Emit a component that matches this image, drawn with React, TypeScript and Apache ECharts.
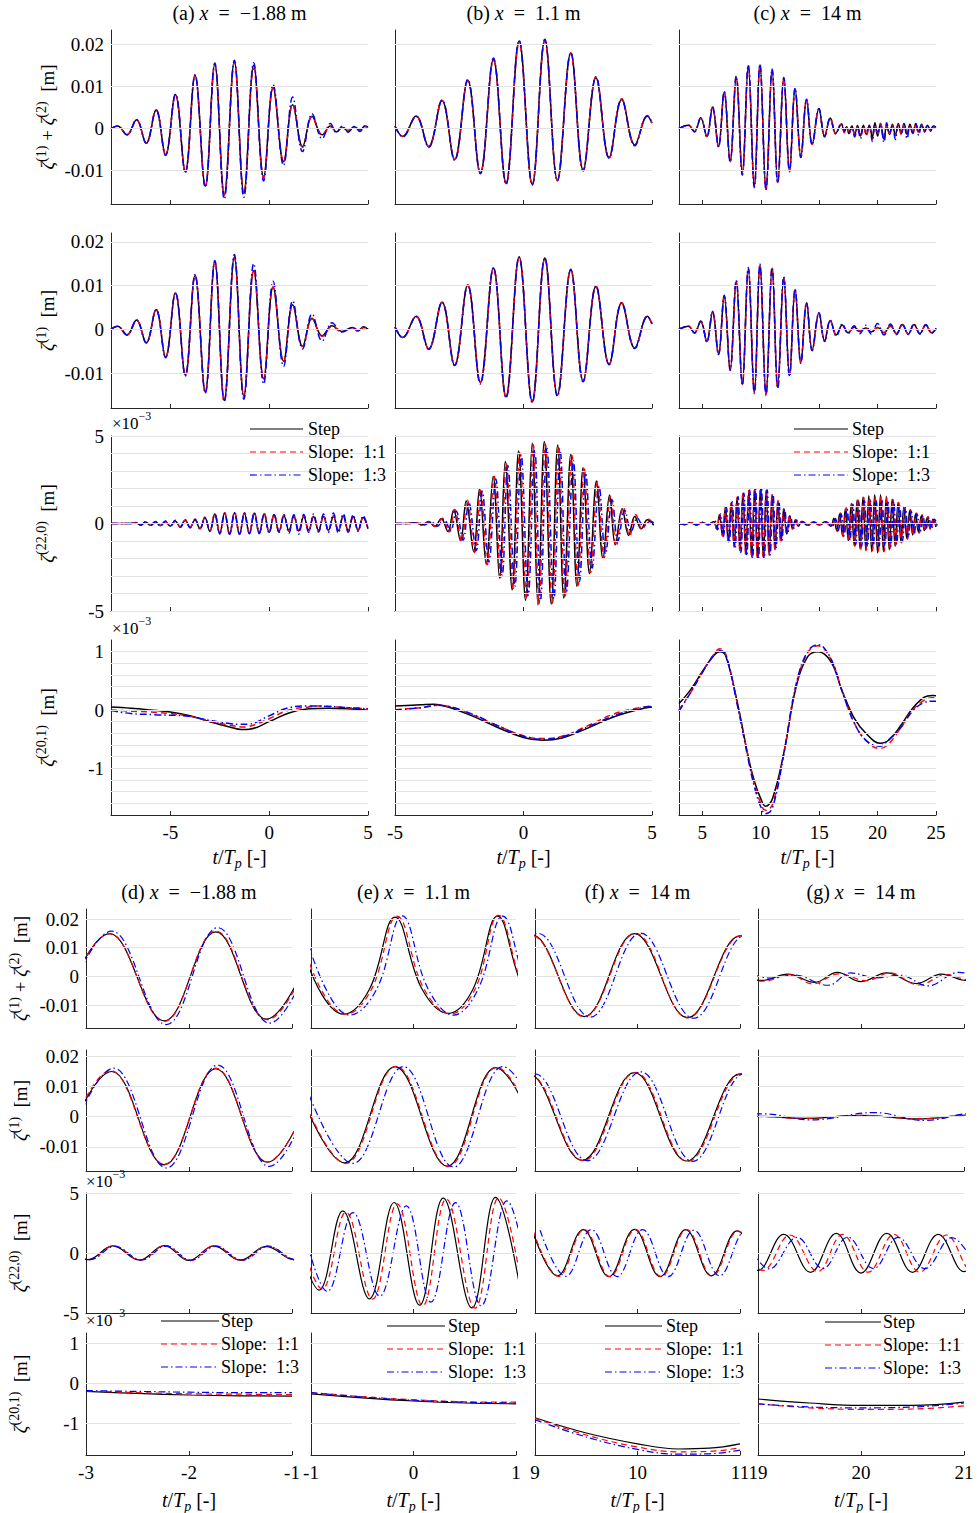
import React, { useEffect, useRef } from 'react';
import * as echarts from 'echarts';

const FONT = '"Liberation Serif", "Times New Roman", serif';
const AXIS = '#262626';
const GRIDC = '#e2e2e2';
const NAMES = ['Step', 'Slope:  1:1', 'Slope:  1:3'];
const COLORS = ['#000000', '#ff0000', '#0000ff'];

// ---------- tick values ----------
const YT_M = [-0.01, 0, 0.01, 0.02];
const YT_220 = [-5, 0, 5];
const YT_201 = [-1, 0, 1];
const GRID_220_TOP = [-5, -4, -3, -2, -1, 0, 1, 2, 3, 4, 5];
const GRID_201_TOP = [-1.6, -1.4, -1.2, -1, -0.8, -0.6, -0.4, -0.2, 0, 0.2, 0.4, 0.6, 0.8, 1];
const GRID_220_BOT = [0, 5];
const XT_TOP = [[-5, 0, 5], [-5, 0, 5], [5, 10, 15, 20, 25]];
const XR_TOP = [[-8, 5], [-5, 5], [3, 25]];
const XT_BOT = [[-3, -2, -1], [-1, 0, 1], [9, 10, 11], [19, 20, 21]];
const XR_BOT = [[-3, -1], [-1, 1], [9, 11], [19, 21]];

// ---------- top row 1 : zeta1 + zeta2 [m] ----------
const T_A1 = [-8, -7.67, -7.19, -6.71, -6.22, -5.72, -5.24, -4.74, -4.24, -3.75, -3.23, -2.75, -2.27, -1.76, -1.28, -0.78, -0.28, 0.2, 0.73, 1.19, 1.69, 2.17, 2.68, 3.1, 3.4, 3.7, 4.0, 4.3, 4.6, 4.85, 5];
const A1_step = [0, 0.0006, -0.0015, 0.0021, -0.0035, 0.0045, -0.0063, 0.0081, -0.0103, 0.0127, -0.0137, 0.0153, -0.0157, 0.0159, -0.0153, 0.0151, -0.0115, 0.0097, -0.0079, 0.0057, -0.0043, 0.0029, -0.0015, 0.0006, -0.0008, 0.0003, -0.0006, 0.0004, -0.0003, 0.0006, 0.0004];
const A1_s11 = [0, 0.0006, -0.0015, 0.0021, -0.0035, 0.0045, -0.0063, 0.0081, -0.0104, 0.0127, -0.0139, 0.0152, -0.0159, 0.0157, -0.0155, 0.0144, -0.0118, 0.0097, -0.008, 0.0058, -0.0045, 0.0028, -0.0017, 0.0004, -0.0006, 0.0002, -0.0004, 0.0003, -0.0004, 0.0004, 0.0002];
const A1_s13 = [0, 0.0006, -0.0015, 0.0021, -0.0035, 0.0045, -0.0064, 0.0082, -0.0105, 0.0128, -0.014, 0.0156, -0.0168, 0.0163, -0.0164, 0.0157, -0.0125, 0.0105, -0.0088, 0.0075, -0.0055, 0.0035, -0.0024, 0.0012, -0.001, 0.0006, -0.0009, 0.0005, -0.0007, 0.0006, 0.0003];

const T_B1 = [-5, -4.7, -4.18, -3.69, -3.17, -2.68, -2.17, -1.68, -1.17, -0.68, -0.17, 0.34, 0.83, 1.32, 1.84, 2.32, 2.82, 3.33, 3.82, 4.33, 4.82, 5];
const B1_step = [0.0006, -0.0019, 0.003, -0.0043, 0.0067, -0.0074, 0.0115, -0.0106, 0.0165, -0.013, 0.0209, -0.0133, 0.0212, -0.0123, 0.018, -0.0099, 0.0121, -0.0069, 0.0069, -0.0039, 0.003, 0.0013];
const B1_s11 = [0.0006, -0.0019, 0.003, -0.0043, 0.0067, -0.0074, 0.0114, -0.0106, 0.0162, -0.0131, 0.0204, -0.0134, 0.0208, -0.0124, 0.018, -0.0099, 0.0124, -0.0071, 0.0071, -0.004, 0.0031, 0.0013];
const B1_s13 = [0.0005, -0.002, 0.0029, -0.0045, 0.0068, -0.0076, 0.0117, -0.0108, 0.0168, -0.0133, 0.021, -0.0135, 0.0213, -0.0125, 0.0181, -0.0101, 0.0123, -0.0071, 0.007, -0.0041, 0.003, 0.0016];

const T_C1 = [3, 3.8, 4.32, 4.86, 5.38, 5.87, 6.38, 6.87, 7.38, 7.9, 8.42, 8.93, 9.45, 9.93, 10.45, 10.97, 11.45, 11.97, 12.46, 12.94, 13.43, 13.92, 14.4, 14.98, 15.46, 15.95, 16.41, 16.9, 17.15, 17.35, 17.55, 17.8, 18.04, 18.28, 18.54, 18.78, 19.04, 19.29, 19.55, 19.77, 20.0, 20.25, 20.54, 20.78, 21.02, 21.27, 21.52, 21.77, 22.02, 22.27, 22.52, 22.77, 23.02, 23.27, 23.52, 23.77, 24.02, 24.27, 24.52, 24.77, 25];
const C1_step = [0, 0.0008, -0.0007, 0.0025, -0.0019, 0.0051, -0.0043, 0.0087, -0.0078, 0.0123, -0.0109, 0.0149, -0.0138, 0.0152, -0.0144, 0.0141, -0.0128, 0.0121, -0.0101, 0.0095, -0.0067, 0.0069, -0.0037, 0.0047, -0.0018, 0.0025, -0.0011, 0.0011, -0.0008, 0.0004, -0.0012, 0.0006, -0.0014, 0.0007, -0.0018, 0.0008, -0.0014, 0.0008, -0.0021, 0.0014, -0.0018, 0.0012, -0.0025, 0.0008, -0.0014, 0.001, -0.0016, 0.0012, -0.0012, 0.0012, -0.0014, 0.001, -0.001, 0.0012, -0.0008, 0.001, -0.0006, 0.0008, -0.0004, 0.0006, 0.0004];
const C1_s11 = [0, 0.0008, -0.0007, 0.0025, -0.0019, 0.0051, -0.0043, 0.0088, -0.0079, 0.0124, -0.011, 0.015, -0.0139, 0.0151, -0.0145, 0.014, -0.0129, 0.012, -0.0101, 0.0094, -0.0068, 0.0068, -0.0038, 0.0046, -0.0019, 0.0024, -0.0012, 0.001, -0.001, 0.0003, -0.0014, 0.0005, -0.0016, 0.0006, -0.002, 0.0006, -0.0017, 0.0006, -0.0026, 0.0009, -0.0015, 0.0012, -0.003, 0.0006, -0.0012, 0.0008, -0.0018, 0.001, -0.0014, 0.001, -0.0016, 0.0008, -0.0012, 0.001, -0.001, 0.0008, -0.0008, 0.0006, -0.0006, 0.0004, 0.0002];
const C1_s13 = [0, 0.0008, -0.0008, 0.0026, -0.002, 0.0052, -0.0044, 0.0088, -0.008, 0.0125, -0.0111, 0.0151, -0.0141, 0.0153, -0.0147, 0.0142, -0.013, 0.0122, -0.0103, 0.0096, -0.0069, 0.007, -0.0039, 0.0048, -0.002, 0.0026, -0.0013, 0.0012, -0.0006, 0.0005, -0.001, 0.0004, -0.002, 0.0002, -0.0024, 0.0006, -0.0006, 0.0005, -0.0031, 0.0012, -0.0008, 0.0004, -0.0033, 0.0014, -0.001, 0.0006, -0.0026, 0.0008, -0.0012, 0.0012, -0.0024, 0.0006, -0.0012, 0.001, -0.0016, 0.0008, -0.0008, 0.0008, -0.0006, 0.0004, 0.0003];

// ---------- top row 2 : zeta1 [m] ----------
const T_A2 = [-8, -7.67, -7.19, -6.71, -6.22, -5.72, -5.24, -4.74, -4.24, -3.75, -3.23, -2.75, -2.27, -1.76, -1.28, -0.78, -0.28, 0.2, 0.73, 1.19, 1.69, 2.17, 2.68, 3.18, 3.68, 4.22, 4.5, 4.78, 5];
const A2_step = [0, 0.0007, -0.0013, 0.0021, -0.0031, 0.0045, -0.0064, 0.0083, -0.0105, 0.0123, -0.0143, 0.0155, -0.0163, 0.0165, -0.0152, 0.0134, -0.0113, 0.0096, -0.0073, 0.0056, -0.0039, 0.0025, -0.0015, 0.0008, -0.0005, 0.0004, -0.0004, 0.0006, 0];
const A2_s11 = [0, 0.0007, -0.0013, 0.0021, -0.0031, 0.0045, -0.0064, 0.0083, -0.0106, 0.0123, -0.0144, 0.0154, -0.0165, 0.0163, -0.0154, 0.0136, -0.0115, 0.0097, -0.0075, 0.0056, -0.004, 0.0024, -0.0016, 0.0006, -0.0006, 0.0003, -0.0005, 0.0004, 0.0001];
const A2_s13 = [0, 0.0007, -0.0013, 0.0021, -0.0031, 0.0045, -0.0065, 0.0084, -0.0107, 0.0125, -0.0146, 0.0157, -0.0165, 0.0171, -0.016, 0.015, -0.0125, 0.011, -0.0085, 0.0065, -0.0045, 0.0035, -0.0027, 0.0015, -0.0006, 0.0004, -0.0002, 0.0004, 0.0001];

const T_B2 = [-5, -4.7, -4.18, -3.69, -3.17, -2.68, -2.17, -1.68, -1.17, -0.68, -0.17, 0.34, 0.83, 1.32, 1.84, 2.32, 2.82, 3.33, 3.82, 4.33, 4.82, 5];
const B2_step = [0.0005, -0.0019, 0.003, -0.0045, 0.0062, -0.0082, 0.0102, -0.0121, 0.014, -0.0154, 0.0165, -0.0165, 0.0163, -0.015, 0.0137, -0.0118, 0.0098, -0.008, 0.006, -0.0043, 0.003, 0.0012];
const B2_s11 = [0.0005, -0.0019, 0.003, -0.0045, 0.0062, -0.0082, 0.0101, -0.0122, 0.0139, -0.0155, 0.0164, -0.0166, 0.0161, -0.0151, 0.0135, -0.0119, 0.0099, -0.008, 0.0061, -0.0043, 0.003, 0.0011];
const B2_s13 = [0.0005, -0.0019, 0.0029, -0.0046, 0.0062, -0.0083, 0.0101, -0.0125, 0.0141, -0.0157, 0.0165, -0.0168, 0.0163, -0.0153, 0.0136, -0.012, 0.0099, -0.0081, 0.006, -0.0044, 0.0029, 0.0014];

const T_C2 = [3, 3.8, 4.32, 4.86, 5.38, 5.87, 6.38, 6.87, 7.38, 7.9, 8.42, 8.93, 9.45, 9.93, 10.45, 10.97, 11.45, 11.97, 12.46, 12.94, 13.43, 13.92, 14.4, 14.98, 15.46, 15.95, 16.47, 16.98, 17.47, 18.0, 18.47, 19.0, 19.45, 20.0, 20.55, 21.1, 21.62, 22.11, 22.63, 23.11, 23.63, 24.12, 24.63, 25];
const C2_step = [0, 0.0007, -0.0008, 0.0018, -0.0028, 0.004, -0.0056, 0.0076, -0.0092, 0.0109, -0.0125, 0.0138, -0.0144, 0.0147, -0.0148, 0.014, -0.0133, 0.0119, -0.0106, 0.0091, -0.0076, 0.006, -0.0047, 0.0037, -0.0026, 0.002, -0.0013, 0.001, -0.0008, 0.0005, -0.0005, 0.0003, -0.0006, 0.0004, -0.0008, 0.0008, -0.001, 0.0011, -0.0011, 0.0011, -0.001, 0.001, -0.0008, 0.0002];
const C2_s11 = [0, 0.0007, -0.0008, 0.0018, -0.0028, 0.004, -0.0057, 0.0077, -0.0093, 0.011, -0.0126, 0.0139, -0.0145, 0.0146, -0.0149, 0.0139, -0.0134, 0.0118, -0.0106, 0.009, -0.0077, 0.0059, -0.0048, 0.0036, -0.0027, 0.0019, -0.0014, 0.0009, -0.0008, 0.0004, -0.0004, 0.0002, -0.0006, 0.0004, -0.0008, 0.0007, -0.001, 0.001, -0.0011, 0.001, -0.001, 0.0009, -0.0008, 0.0002];
const C2_s13 = [0, 0.0007, -0.0009, 0.0019, -0.0029, 0.0041, -0.0058, 0.0078, -0.0094, 0.0112, -0.0128, 0.0141, -0.0147, 0.0149, -0.0151, 0.0141, -0.0135, 0.012, -0.0108, 0.0092, -0.0078, 0.0061, -0.0049, 0.0038, -0.0028, 0.0021, -0.0016, 0.0012, -0.001, 0.0008, -0.001, 0.0009, -0.0011, 0.0013, -0.0013, 0.0012, -0.0012, 0.0012, -0.0012, 0.0012, -0.0011, 0.0011, -0.0009, 0.0002];

// ---------- top row 3 : zeta(22,0) [1e-3 m] ----------
const T_A3 = [-8, -7, -6.75, -6.5, -6.25, -6, -5.75, -5.5, -5.25, -5, -4.75, -4.5, -4.25, -4, -3.75, -3.5, -3.25, -3, -2.75, -2.5, -2.25, -2, -1.75, -1.5, -1.25, -1, -0.75, -0.5, -0.25, 0, 0.25, 0.5, 0.75, 1, 1.25, 1.5, 1.75, 2, 2.25, 2.5, 2.75, 3, 3.25, 3.5, 3.75, 4, 4.25, 4.5, 4.75, 5];
const A3_step = [0, 0, 0.05, -0.08, 0.08, -0.1, 0.1, -0.12, 0.12, -0.15, 0.15, -0.2, 0.18, -0.2, 0.22, -0.3, 0.35, -0.45, 0.55, -0.58, 0.6, -0.62, 0.62, -0.62, 0.58, -0.56, 0.6, -0.58, 0.55, -0.5, 0.5, -0.45, 0.45, -0.4, 0.4, -0.42, 0.4, -0.38, 0.4, -0.4, 0.4, -0.38, 0.4, -0.4, 0.42, -0.4, 0.4, -0.38, 0.35, -0.3];
const A3_s11 = [0, 0, 0.05, -0.08, 0.08, -0.1, 0.1, -0.12, 0.12, -0.15, 0.16, -0.2, 0.2, -0.22, 0.24, -0.3, 0.36, -0.45, 0.57, -0.6, 0.62, -0.63, 0.65, -0.62, 0.62, -0.58, 0.62, -0.55, 0.58, -0.5, 0.52, -0.48, 0.5, -0.45, 0.45, -0.45, 0.45, -0.45, 0.42, -0.45, 0.45, -0.42, 0.45, -0.42, 0.45, -0.42, 0.42, -0.4, 0.38, -0.3];
const A3_s13 = [0, 0, 0.06, -0.09, 0.1, -0.12, 0.12, -0.14, 0.14, -0.16, 0.18, -0.22, 0.22, -0.25, 0.25, -0.32, 0.34, -0.42, 0.52, -0.55, 0.58, -0.6, 0.6, -0.6, 0.58, -0.58, 0.6, -0.55, 0.55, -0.52, 0.5, -0.5, 0.5, -0.55, 0.5, -0.6, 0.52, -0.5, 0.55, -0.48, 0.55, -0.5, 0.6, -0.55, 0.55, -0.5, 0.5, -0.45, 0.45, -0.3];

const T_B3 = [-5, -4.5, -4.2, -3.95, -3.69, -3.46, -3.2, -2.94, -2.72, -2.45, -2.23, -1.94, -1.71, -1.45, -1.18, -0.93, -0.71, -0.44, -0.19, 0.08, 0.34, 0.56, 0.81, 1.08, 1.33, 1.57, 1.84, 2.08, 2.32, 2.57, 2.84, 3.09, 3.35, 3.57, 3.84, 4.09, 4.33, 4.58, 4.82, 5.07];
const B3_step = [0, 0, 0.05, -0.08, 0.11, -0.17, 0.27, -0.46, 0.76, -0.99, 1.29, -1.6, 1.98, -2.32, 2.69, -3.12, 3.54, -3.78, 4.14, -4.39, 4.58, -4.64, 4.68, -4.6, 4.49, -4.26, 3.95, -3.59, 3.19, -2.87, 2.43, -1.98, 1.63, -1.22, 0.84, -0.68, 0.4, -0.3, 0.21, -0.1];
const T_B3r = [-5, -4.46, -4.16, -3.91, -3.65, -3.42, -3.16, -2.9, -2.68, -2.41, -2.19, -1.9, -1.67, -1.41, -1.14, -0.89, -0.67, -0.4, -0.15, 0.12, 0.38, 0.6, 0.85, 1.12, 1.37, 1.61, 1.88, 2.12, 2.36, 2.61, 2.88, 3.13, 3.39, 3.61, 3.88, 4.13, 4.37, 4.62, 4.86, 5.11];
const B3_s11 = [0, 0, 0.05, -0.08, 0.11, -0.17, 0.3, -0.48, 0.8, -1.05, 1.35, -1.65, 2.0, -2.35, 2.7, -3.1, 3.45, -3.7, 4.05, -4.3, 4.5, -4.6, 4.55, -4.55, 4.4, -4.2, 3.9, -3.55, 3.15, -2.8, 2.4, -2.0, 1.6, -1.3, 0.95, -0.72, 0.5, -0.35, 0.25, -0.1];
const T_B3b = [-5, -4.4, -4.1, -3.85, -3.59, -3.36, -3.1, -2.84, -2.62, -2.35, -2.13, -1.84, -1.61, -1.35, -1.08, -0.83, -0.61, -0.34, -0.09, 0.18, 0.44, 0.66, 0.91, 1.18, 1.43, 1.67, 1.94, 2.18, 2.42, 2.67, 2.94, 3.19, 3.45, 3.67, 3.94, 4.19, 4.43, 4.68, 4.92, 5.17];
const B3_s13 = [0, 0, 0.05, -0.08, 0.1, -0.15, 0.25, -0.42, 0.7, -0.95, 1.2, -1.55, 1.85, -2.2, 2.55, -2.95, 3.3, -3.6, 3.9, -4.1, 4.2, -4.4, 4.3, -4.3, 4.1, -3.9, 3.6, -3.3, 2.9, -2.55, 2.1, -1.75, 1.35, -1.0, 0.75, -0.45, 0.3, -0.15, 0.12, -0.05];

const T_C3 = [3, 3.5, 4, 4.5, 5, 5.5, 5.97, 6.22, 6.47, 6.72, 6.97, 7.22, 7.47, 7.72, 7.97, 8.22, 8.47, 8.72, 8.97, 9.22, 9.47, 9.72, 9.97, 10.22, 10.47, 10.72, 10.97, 11.22, 11.47, 11.72, 11.97, 12.22, 12.47, 12.72, 12.97, 13.22, 13.5, 14, 14.5, 15, 15.5, 16.0, 16.25, 16.5, 16.75, 17.0, 17.25, 17.5, 17.75, 18.0, 18.25, 18.5, 18.75, 19.0, 19.25, 19.5, 19.75, 20.0, 20.25, 20.5, 20.75, 21.0, 21.25, 21.5, 21.75, 22.0, 22.25, 22.5, 22.75, 23.0, 23.25, 23.5, 23.75, 24.0, 24.25, 24.5, 24.75, 25];
const C3_step = [0, -0.05, 0.05, -0.08, 0.06, -0.06, 0.1, -0.3, 0.5, -0.7, 0.9, -1.05, 1.2, -1.3, 1.45, -1.55, 1.7, -1.75, 1.85, -1.9, 1.95, -2.0, 2.0, -1.95, 1.9, -1.8, 1.65, -1.5, 1.3, -1.05, 0.85, -0.6, 0.45, -0.3, 0.2, -0.15, 0.12, -0.1, 0.08, -0.08, 0.1, -0.15, 0.3, -0.4, 0.55, -0.7, 0.85, -1.0, 1.15, -1.25, 1.35, -1.45, 1.5, -1.55, 1.58, -1.61, 1.64, -1.67, 1.64, -1.61, 1.56, -1.5, 1.4, -1.3, 1.2, -1.05, 0.95, -0.85, 0.75, -0.65, 0.55, -0.5, 0.45, -0.4, 0.35, -0.3, 0.25, -0.2];
const T_C3r = [3, 3.5, 4, 4.5, 5, 5.5, 5.97, 6.22, 6.47, 6.72, 6.97, 7.22, 7.47, 7.72, 7.97, 8.22, 8.47, 8.72, 8.97, 9.22, 9.47, 9.72, 9.97, 10.22, 10.47, 10.72, 10.97, 11.22, 11.47, 11.72, 11.97, 12.22, 12.47, 12.72, 12.97, 13.22, 13.5, 14, 14.5, 15, 15.5, 16.06, 16.31, 16.56, 16.81, 17.06, 17.31, 17.56, 17.81, 18.06, 18.31, 18.56, 18.81, 19.06, 19.31, 19.56, 19.81, 20.06, 20.31, 20.56, 20.81, 21.06, 21.31, 21.56, 21.81, 22.06, 22.31, 22.56, 22.81, 23.06, 23.31, 23.56, 23.81, 24.06, 24.31, 24.56, 24.81, 25.06];
const C3_s11 = [0, -0.05, 0.05, -0.07, 0.06, -0.06, 0.12, -0.32, 0.52, -0.72, 0.92, -1.08, 1.22, -1.35, 1.5, -1.6, 1.72, -1.8, 1.88, -1.95, 1.98, -2.02, 2.0, -1.98, 1.9, -1.8, 1.65, -1.5, 1.3, -1.1, 0.85, -0.62, 0.45, -0.32, 0.2, -0.15, 0.12, -0.1, 0.08, -0.08, 0.1, -0.18, 0.32, -0.45, 0.6, -0.75, 0.9, -1.05, 1.2, -1.3, 1.4, -1.5, 1.5, -1.5, 1.5, -1.55, 1.55, -1.6, 1.55, -1.6, 1.5, -1.5, 1.4, -1.3, 1.2, -1.1, 1.0, -0.9, 0.8, -0.7, 0.6, -0.55, 0.5, -0.45, 0.4, -0.35, 0.3, -0.25];
const T_C3b = [3, 3.5, 4, 4.5, 5, 5.5, 6.05, 6.3, 6.55, 6.8, 7.05, 7.3, 7.55, 7.8, 8.05, 8.3, 8.55, 8.8, 9.05, 9.3, 9.55, 9.8, 10.05, 10.3, 10.55, 10.8, 11.05, 11.3, 11.55, 11.8, 12.05, 12.3, 12.55, 12.8, 13.05, 13.3, 13.58, 14.08, 14.58, 15.08, 15.58, 16.13, 16.38, 16.63, 16.88, 17.13, 17.38, 17.63, 17.88, 18.13, 18.38, 18.63, 18.88, 19.13, 19.38, 19.63, 19.88, 20.13, 20.38, 20.63, 20.88, 21.13, 21.38, 21.63, 21.88, 22.13, 22.38, 22.63, 22.88, 23.13, 23.38, 23.63, 23.88, 24.13, 24.38, 24.63, 24.88, 25.13];
const C3_s13 = [0, -0.05, 0.06, -0.08, 0.06, -0.08, 0.15, -0.35, 0.55, -0.75, 0.95, -1.1, 1.25, -1.4, 1.55, -1.65, 1.75, -1.85, 1.92, -1.98, 2.02, -2.07, 2.05, -2.0, 1.92, -1.8, 1.65, -1.45, 1.25, -1.0, 0.8, -0.6, 0.42, -0.3, 0.2, -0.15, 0.12, -0.1, 0.08, -0.08, 0.1, -0.15, 0.28, -0.4, 0.55, -0.7, 0.85, -0.95, 1.1, -1.2, 1.25, -1.3, 1.3, -1.33, 1.3, -1.3, 1.32, -1.3, 1.3, -1.3, 1.28, -1.3, 1.25, -1.2, 1.1, -1.0, 0.9, -0.8, 0.7, -0.6, 0.55, -0.5, 0.45, -0.4, 0.35, -0.3, 0.25, -0.2];

// ---------- top row 4 : zeta(20,1) [1e-3 m] ----------
const A4_step = [[-8, 0.05], [-7, 0.03], [-6, 0.0], [-5, -0.035], [-4, -0.1], [-3, -0.2], [-2, -0.29], [-1.4, -0.335], [-1, -0.33], [0, -0.2], [1, -0.05], [2, 0.02], [3, 0.03], [4, 0.02], [5, -0.005]];
const A4_s11 = [[-8, 0.0], [-7, -0.02], [-6, -0.035], [-5, -0.06], [-4, -0.11], [-3, -0.19], [-2, -0.26], [-1.3, -0.29], [-1, -0.28], [0, -0.15], [1, 0.0], [2, 0.05], [2.5, 0.07], [3.5, 0.05], [5, 0.02]];
const A4_s13 = [[-8, -0.01], [-7, -0.06], [-5.8, -0.08], [-4, -0.11], [-3, -0.18], [-2, -0.23], [-1.5, -0.245], [-1, -0.24], [0, -0.1], [1, 0.04], [2, 0.07], [3, 0.06], [4, 0.04], [5, 0.02]];
const B4_step = [[-5, 0.07], [-4, 0.09], [-3.5, 0.1], [-3, 0.06], [-2, -0.1], [-1, -0.3], [0, -0.47], [0.75, -0.52], [1.5, -0.48], [2.5, -0.31], [3.5, -0.12], [4.5, 0.01], [5, 0.05]];
const B4_s11 = [[-5, 0.005], [-4, 0.04], [-3.3, 0.08], [-3, 0.07], [-2, -0.08], [-1, -0.27], [0, -0.44], [0.7, -0.49], [1.5, -0.45], [2.5, -0.27], [3.5, -0.07], [4.5, 0.04], [5, 0.07]];
const B4_s13 = [[-5, 0.0], [-4, 0.04], [-3.3, 0.08], [-3, 0.07], [-2, -0.07], [-1, -0.27], [0, -0.45], [0.7, -0.5], [1.5, -0.46], [2.5, -0.29], [3.5, -0.1], [4.5, 0.03], [5, 0.06]];
const T_C4 = [3, 4, 5, 6, 6.5, 7, 8, 9, 9.5, 10, 10.4, 11, 12, 13, 14, 14.9, 16, 17, 18, 19, 20.2, 21, 22, 23, 24, 24.7, 25];
const C4_step = [0.11, 0.35, 0.66, 0.94, 1.0, 0.93, 0.12, -0.87, -1.25, -1.52, -1.65, -1.52, -0.71, 0.37, 0.91, 1.0, 0.83, 0.31, -0.14, -0.4, -0.57, -0.51, -0.26, 0.03, 0.22, 0.25, 0.245];
const C4_s11 = [0.0, 0.3, 0.65, 0.96, 1.05, 0.96, 0.1, -0.88, -1.3, -1.6, -1.72, -1.62, -0.72, 0.4, 0.98, 1.1, 0.87, 0.3, -0.22, -0.52, -0.66, -0.57, -0.3, 0.0, 0.17, 0.21, 0.21];
const C4_s13 = [-0.02, 0.3, 0.64, 0.95, 1.02, 0.95, 0.08, -0.92, -1.35, -1.66, -1.78, -1.68, -0.72, 0.42, 1.0, 1.12, 0.88, 0.3, -0.22, -0.52, -0.62, -0.5, -0.3, -0.02, 0.13, 0.15, 0.15];

// ---------- bottom row 1 : zeta1 + zeta2 [m] ----------
const D1_step = [[-3.28, -0.015], [-2.77, 0.0149], [-2.24, -0.0155], [-1.74, 0.0155], [-1.25, -0.0149], [-0.74, 0.015]];
const D1_s11 = [[-3.28, -0.015], [-2.77, 0.0149], [-2.24, -0.0157], [-1.74, 0.0158], [-1.24, -0.0151], [-0.73, 0.015]];
const D1_s13 = [[-3.26, -0.0155], [-2.75, 0.0158], [-2.22, -0.0168], [-1.72, 0.017], [-1.22, -0.0163], [-0.71, 0.016]];
const E1_step = [[-1.18, 0.0207], [-0.93, -0.004], [-0.68, -0.0132], [-0.43, -0.0045], [-0.18, 0.0207], [0.08, -0.0042], [0.34, -0.0129], [0.58, -0.0045], [0.82, 0.021], [1.07, -0.004], [1.32, -0.013]];
const E1_s11 = [[-1.16, 0.021], [-0.91, -0.004], [-0.66, -0.0132], [-0.41, -0.0045], [-0.16, 0.021], [0.1, -0.0042], [0.36, -0.0131], [0.6, -0.0045], [0.83, 0.0213], [1.08, -0.004], [1.34, -0.013]];
const E1_s13 = [[-1.11, 0.021], [-0.86, -0.004], [-0.62, -0.0135], [-0.36, -0.0045], [-0.11, 0.0211], [0.14, -0.0042], [0.39, -0.0135], [0.63, -0.0045], [0.87, 0.021], [1.12, -0.004], [1.37, -0.013]];
const F1_step = [[8.47, -0.014], [8.97, 0.0145], [9.48, -0.014], [9.97, 0.0149], [10.49, -0.0144], [11.0, 0.0141], [11.5, -0.014]];
const F1_s11 = [[8.47, -0.014], [8.97, 0.0142], [9.48, -0.0141], [9.98, 0.015], [10.49, -0.0145], [11.01, 0.0142], [11.5, -0.014]];
const F1_s13 = [[8.53, -0.014], [9.03, 0.015], [9.54, -0.0142], [10.03, 0.0151], [10.55, -0.0146], [11.05, 0.0143], [11.55, -0.014]];
const G1_step = [[18.8, 0.0008], [19.04, -0.0014], [19.29, 0.0008], [19.55, -0.0021], [19.77, 0.0014], [20.0, -0.0018], [20.25, 0.0012], [20.54, -0.0025], [20.78, 0.0008], [21.02, -0.0014], [21.27, 0.001]];
const G1_s11 = [[18.82, 0.0006], [19.05, -0.0017], [19.31, 0.0006], [19.53, -0.0026], [19.79, 0.0009], [20.05, -0.0015], [20.28, 0.0012], [20.56, -0.003], [20.83, 0.0006], [21.05, -0.0012], [21.3, 0.0008]];
const G1_s13 = [[18.95, 0.0006], [19.12, -0.0006], [19.35, 0.0005], [19.68, -0.0031], [19.9, 0.0012], [20.15, -0.0005], [20.38, 0.0004], [20.65, -0.0033], [20.95, 0.0014], [21.2, -0.001]];

// ---------- bottom row 2 : zeta1 [m] ----------
const D2_step = [[-3.27, -0.015], [-2.75, 0.0149], [-2.24, -0.016], [-1.74, 0.0158], [-1.24, -0.0151], [-0.73, 0.015]];
const D2_s11 = [[-3.27, -0.015], [-2.76, 0.0152], [-2.24, -0.0158], [-1.74, 0.016], [-1.24, -0.015], [-0.73, 0.015]];
const D2_s13 = [[-3.25, -0.0155], [-2.73, 0.016], [-2.22, -0.017], [-1.72, 0.017], [-1.22, -0.0165], [-0.71, 0.016]];
const E2_step = [[-1.2, 0.016], [-0.67, -0.0153], [-0.18, 0.0165], [0.33, -0.0164], [0.8, 0.0162], [1.31, -0.016]];
const E2_s11 = [[-1.19, 0.016], [-0.66, -0.0155], [-0.17, 0.0166], [0.34, -0.0166], [0.81, 0.0163], [1.32, -0.016]];
const E2_s13 = [[-1.12, 0.016], [-0.59, -0.0155], [-0.1, 0.0165], [0.39, -0.0167], [0.87, 0.0165], [1.38, -0.016]];
const F2_step = [[8.44, -0.014], [8.94, 0.014], [9.46, -0.0145], [9.97, 0.0145], [10.48, -0.0147], [11.0, 0.0141], [11.5, -0.014]];
const F2_s11 = [[8.45, -0.014], [8.95, 0.0138], [9.47, -0.0146], [9.98, 0.0146], [10.49, -0.0148], [11.01, 0.014], [11.5, -0.014]];
const F2_s13 = [[8.5, -0.014], [9.0, 0.0141], [9.51, -0.0146], [10.03, 0.0148], [10.54, -0.0148], [11.04, 0.0141], [11.55, -0.014]];
const G2_step = [[18.5, -0.0004], [19.0, 0.0001], [19.45, -0.0006], [20.0, 0.0004], [20.55, -0.0008], [21.1, 0.0006], [21.6, -0.0006]];
const G2_s11 = [[18.5, -0.0004], [19.0, 0.0], [19.45, -0.0006], [20.02, 0.0004], [20.55, -0.0008], [21.1, 0.0006], [21.6, -0.0006]];
const G2_s13 = [[18.55, -0.001], [19.05, 0.0009], [19.51, -0.0011], [20.13, 0.0013], [20.62, -0.0013], [21.1, 0.0011], [21.6, -0.001]];

// ---------- bottom row 3 : zeta(22,0) [1e-3 m] ----------
const D3_step = [[-3.24, 0.55], [-2.98, -0.55], [-2.74, 0.59], [-2.48, -0.59], [-2.24, 0.62], [-2.0, -0.62], [-1.76, 0.6], [-1.5, -0.6], [-1.25, 0.56], [-0.98, -0.55], [-0.74, 0.55]];
const D3_s11 = [[-3.23, 0.55], [-2.97, -0.57], [-2.73, 0.6], [-2.47, -0.6], [-2.23, 0.63], [-1.99, -0.63], [-1.75, 0.62], [-1.49, -0.62], [-1.24, 0.6], [-0.97, -0.57], [-0.73, 0.56]];
const D3_s13 = [[-3.22, 0.5], [-2.96, -0.55], [-2.72, 0.55], [-2.46, -0.58], [-2.22, 0.58], [-1.98, -0.6], [-1.74, 0.56], [-1.48, -0.58], [-1.23, 0.55], [-0.96, -0.55], [-0.72, 0.5]];
const E3_step = [[-1.18, 2.9], [-0.92, -3.09], [-0.69, 3.51], [-0.43, -3.82], [-0.19, 4.21], [0.06, -4.35], [0.29, 4.58], [0.57, -4.58], [0.8, 4.63], [1.07, -4.5]];
const E3_s11 = [[-1.15, 2.8], [-0.89, -3.0], [-0.66, 3.4], [-0.4, -3.85], [-0.16, 4.1], [0.09, -4.4], [0.32, 4.5], [0.6, -4.6], [0.83, 4.6], [1.09, -4.5]];
const E3_s13 = [[-1.1, 3.0], [-0.84, -3.2], [-0.59, 3.37], [-0.33, -3.6], [-0.07, 3.93], [0.17, -4.1], [0.41, 4.2], [0.66, -4.4], [0.91, 4.35], [1.16, -4.3]];
const F3_step = [[8.97, 1.95], [9.22, -1.9], [9.47, 1.95], [9.72, -1.97], [9.97, 1.97], [10.22, -1.97], [10.47, 1.95], [10.72, -1.9], [10.97, 1.85], [11.22, -1.9]];
const F3_s11 = [[8.98, 1.9], [9.23, -1.95], [9.48, 1.95], [9.73, -1.97], [9.98, 1.97], [10.23, -1.97], [10.48, 1.95], [10.73, -1.92], [10.98, 1.85], [11.23, -1.9]];
const F3_s13 = [[9.05, 1.9], [9.3, -1.95], [9.55, 1.95], [9.8, -1.97], [10.05, 1.95], [10.3, -1.97], [10.55, 1.9], [10.8, -1.9], [11.05, 1.8], [11.3, -1.85]];
const G3_step = [[18.75, 1.5], [19.0, -1.45], [19.25, 1.56], [19.51, -1.61], [19.76, 1.64], [20.0, -1.67], [20.25, 1.64], [20.5, -1.61], [20.75, 1.56], [21.0, -1.55], [21.25, 1.5]];
const G3_s11 = [[18.8, 1.45], [19.05, -1.45], [19.31, 1.5], [19.58, -1.55], [19.82, 1.55], [20.07, -1.6], [20.32, 1.55], [20.57, -1.6], [20.83, 1.5], [21.08, -1.5], [21.33, 1.45]];
const G3_s13 = [[18.88, 1.3], [19.11, -1.33], [19.38, 1.3], [19.63, -1.3], [19.87, 1.32], [20.12, -1.3], [20.36, 1.3], [20.62, -1.3], [20.88, 1.28], [21.12, -1.3]];

// ---------- bottom row 4 : zeta(20,1) [1e-3 m] ----------
const D4_step = [[-3, -0.21], [-2.5, -0.26], [-2, -0.3], [-1.5, -0.32], [-1, -0.33]];
const D4_s11 = [[-3, -0.2], [-2.5, -0.24], [-2, -0.27], [-1.5, -0.28], [-1, -0.29]];
const D4_s13 = [[-3, -0.19], [-2.5, -0.21], [-2, -0.23], [-1.5, -0.24], [-1, -0.24]];
const E4_step = [[-1, -0.27], [-0.5, -0.37], [0, -0.45], [0.5, -0.5], [1, -0.52]];
const E4_s11 = [[-1, -0.24], [-0.5, -0.34], [0, -0.42], [0.5, -0.47], [1, -0.48]];
const E4_s13 = [[-1, -0.24], [-0.5, -0.35], [0, -0.43], [0.5, -0.48], [1, -0.5]];
const F4_step = [[9, -0.87], [9.5, -1.25], [10, -1.52], [10.4, -1.65], [10.7, -1.63], [11, -1.52]];
const F4_s11 = [[9, -0.88], [9.5, -1.3], [10, -1.6], [10.4, -1.72], [10.7, -1.71], [11, -1.62]];
const F4_s13 = [[9, -0.92], [9.5, -1.35], [10, -1.66], [10.4, -1.78], [10.7, -1.77], [11, -1.68]];
const G4_step = [[19, -0.4], [19.5, -0.5], [20, -0.56], [20.5, -0.56], [21, -0.48]];
const G4_s11 = [[19, -0.52], [19.5, -0.62], [20, -0.66], [20.5, -0.65], [21, -0.57]];
const G4_s13 = [[19, -0.52], [19.5, -0.6], [20, -0.62], [20.5, -0.6], [21, -0.5]];

const pts = (t: number[], v: number[]) => t.map((x, i) => [x, v[i]]);
type Trio = number[][][];

const TOP_DATA: Trio[][] = [
  [[pts(T_A1, A1_step), pts(T_A1, A1_s11), pts(T_A1, A1_s13)], [pts(T_B1, B1_step), pts(T_B1, B1_s11), pts(T_B1, B1_s13)], [pts(T_C1, C1_step), pts(T_C1, C1_s11), pts(T_C1, C1_s13)]],
  [[pts(T_A2, A2_step), pts(T_A2, A2_s11), pts(T_A2, A2_s13)], [pts(T_B2, B2_step), pts(T_B2, B2_s11), pts(T_B2, B2_s13)], [pts(T_C2, C2_step), pts(T_C2, C2_s11), pts(T_C2, C2_s13)]],
  [[pts(T_A3, A3_step), pts(T_A3, A3_s11), pts(T_A3, A3_s13)], [pts(T_B3, B3_step), pts(T_B3r, B3_s11), pts(T_B3b, B3_s13)], [pts(T_C3, C3_step), pts(T_C3r, C3_s11), pts(T_C3b, C3_s13)]],
  [[A4_step, A4_s11, A4_s13], [B4_step, B4_s11, B4_s13], [pts(T_C4, C4_step), pts(T_C4, C4_s11), pts(T_C4, C4_s13)]],
];
const BOT_DATA: Trio[][] = [
  [[D1_step, D1_s11, D1_s13], [E1_step, E1_s11, E1_s13], [F1_step, F1_s11, F1_s13], [G1_step, G1_s11, G1_s13]],
  [[D2_step, D2_s11, D2_s13], [E2_step, E2_s11, E2_s13], [F2_step, F2_s11, F2_s13], [G2_step, G2_s11, G2_s13]],
  [[D3_step, D3_s11, D3_s13], [E3_step, E3_s11, E3_s13], [F3_step, F3_s11, F3_s13], [G3_step, G3_s11, G3_s13]],
  [[D4_step, D4_s11, D4_s13], [E4_step, E4_s11, E4_s13], [F4_step, F4_s11, F4_s13], [G4_step, G4_s11, G4_s13]],
];

// ---------- layout ----------
const TOP_COLS = [[111, 257], [395, 257], [679, 257]];
const TOP_ROWS = [[30, 174], [233, 175], [436, 175], [640, 175]];
const BOT_COLS = [[86, 206], [311, 205], [535, 205], [758, 206]];
const BOT_ROWS = [[909, 119], [1050, 121], [1193, 120], [1333, 122]];
const TOP_YR = [[-0.018, 0.0235], [-0.018, 0.022], [-5, 5], [-1.8, 1.2]];
const BOT_YR = [[-0.018, 0.0235], [-0.018, 0.022], [-5, 5], [-1.8, 1.25]];
const YT = [YT_M, YT_M, YT_220, YT_201];
const TOP_GRID = [YT_M, YT_M, GRID_220_TOP, GRID_201_TOP];
const BOT_GRID = [YT_M, YT_M, GRID_220_BOT, YT_201];

interface Panel {
  rect: number[]; xr: number[]; xt: number[]; yr: number[]; yt: number[]; grid: number[];
  showX: boolean; showY: boolean; data: Trio; lw: number; fs: number;
}

function buildPanels(): Panel[] {
  const out: Panel[] = [];
  TOP_ROWS.forEach((r, ri) => TOP_COLS.forEach((c, ci) => out.push({
    rect: [c[0], r[0], c[1], r[1]], xr: XR_TOP[ci], xt: XT_TOP[ci], yr: TOP_YR[ri], yt: YT[ri], grid: TOP_GRID[ri],
    showX: ri === 3, showY: ci === 0, data: TOP_DATA[ri][ci], lw: 1.5, fs: 19,
  })));
  BOT_ROWS.forEach((r, ri) => BOT_COLS.forEach((c, ci) => out.push({
    rect: [c[0], r[0], c[1], r[1]], xr: XR_BOT[ci], xt: XT_BOT[ci], yr: BOT_YR[ri], yt: YT[ri], grid: BOT_GRID[ri],
    showX: ri === 3, showY: ci === 0, data: BOT_DATA[ri][ci], lw: 1.2, fs: 19,
  })));
  return out;
}

const fmt = (v: number) => String(v);
const DASHES = ['solid', [6, 4], [7, 3, 1.5, 3]];

const rich = (fs: number) => ({
  g: { fontFamily: FONT, fontSize: fs, fontStyle: 'italic', lineHeight: 26, fill: '#000' },
  i: { fontFamily: FONT, fontSize: fs, fontStyle: 'italic', lineHeight: 26, fill: '#000' },
  s: { fontFamily: FONT, fontSize: Math.round(fs * 0.72), lineHeight: 12, verticalAlign: 'top', fill: '#000' },
  p: { fontFamily: FONT, fontSize: Math.round(fs * 0.72), fontStyle: 'italic', lineHeight: 14, verticalAlign: 'bottom', fill: '#000' },
});

function text(x: number, y: number, str: string, fs: number, align = 'center', rot = 0) {
  return {
    type: 'text', x, y, rotation: rot, silent: true, z: 100,
    style: { text: str, fontFamily: FONT, fontSize: fs, fill: '#000', align, verticalAlign: 'middle', lineHeight: 26, rich: rich(fs) },
  };
}

function buildOption() {
  const panels = buildPanels();
  const grid: any[] = [], xAxis: any[] = [], yAxis: any[] = [], series: any[] = [];
  panels.forEach((p, i) => {
    grid.push({ left: p.rect[0], top: p.rect[1], width: p.rect[2], height: p.rect[3] });
    xAxis.push({
      type: 'value', gridIndex: i, min: p.xr[0], max: p.xr[1],
      axisLine: { show: true, onZero: false, lineStyle: { color: AXIS, width: 1 } },
      axisTick: { show: true, inside: true, length: 4, customValues: p.xt, lineStyle: { color: AXIS, width: 1 } },
      axisLabel: { show: p.showX, customValues: p.xt, formatter: fmt, margin: 8, color: '#000', fontFamily: FONT, fontSize: p.fs },
      splitLine: { show: false },
    });
    yAxis.push({
      type: 'value', gridIndex: i, min: p.yr[0], max: p.yr[1],
      axisLine: { show: true, onZero: false, lineStyle: { color: AXIS, width: 1 } },
      axisTick: { show: true, inside: true, length: 4, customValues: p.yt, lineStyle: { color: AXIS, width: 1 } },
      axisLabel: { show: p.showY, customValues: p.yt, formatter: fmt, margin: 7, color: '#000', fontFamily: FONT, fontSize: p.fs },
      splitLine: { show: false },
    });
    series.push({
      type: 'line', xAxisIndex: i, yAxisIndex: i, data: [], z: 1, silent: true,
      markLine: {
        silent: true, symbol: ['none', 'none'], label: { show: false }, animation: false,
        lineStyle: { color: GRIDC, width: 1, type: 'solid' },
        data: p.grid.map((v) => ({ yAxis: v })),
      },
    });
    p.data.forEach((d, k) => {
      series.push({
        type: 'line', name: NAMES[k], xAxisIndex: i, yAxisIndex: i, data: d, z: 2 + k,
        symbol: 'none', showSymbol: false, smooth: 0.4, silent: true, clip: true,
        lineStyle: { color: COLORS[k], width: p.lw, type: DASHES[k] },
      });
    });
  });

  const graphic: any[] = [];
  // titles
  const topTitles = ['(a) {i|x}  =  −1.88 m', '(b) {i|x}  =  1.1 m', '(c) {i|x}  =  14 m'];
  const botTitles = ['(d) {i|x}  =  −1.88 m', '(e) {i|x}  =  1.1 m', '(f) {i|x}  =  14 m', '(g) {i|x}  =  14 m'];
  TOP_COLS.forEach((c, i) => graphic.push(text(c[0] + c[1] / 2, 13, topTitles[i], 20)));
  BOT_COLS.forEach((c, i) => graphic.push(text(c[0] + c[1] / 2, 892, botTitles[i], 20)));
  // x axis names
  const xName = '{i|t}/{i|T}{p|p} [-]';
  TOP_COLS.forEach((c) => graphic.push(text(c[0] + c[1] / 2, 857, xName, 20)));
  BOT_COLS.forEach((c) => graphic.push(text(c[0] + c[1] / 2, 1500, xName, 20)));
  // y axis names
  const yNames = ['{g|ζ}{s|(1)} + {g|ζ}{s|(2)}  [m]', '{g|ζ}{s|(1)}  [m]', '{g|ζ}{s|(22,0)}  [m]', '{g|ζ}{s|(20,1)}  [m]'];
  TOP_ROWS.forEach((r, i) => graphic.push(text(47, r[0] + r[1] / 2, yNames[i], 19, 'center', Math.PI / 2)));
  BOT_ROWS.forEach((r, i) => graphic.push(text(20, r[0] + r[1] / 2, yNames[i], 19, 'center', Math.PI / 2)));
  // exponent labels
  [[112, 423], [112, 628], [86, 1181], [86, 1320]].forEach(([x, y]) => graphic.push(text(x, y, '×10{s|−3}', 17, 'left')));
  // legends
  const legends = [
    { x1: 250, x2: 303, tx: 308, ys: [429, 452, 475] },
    { x1: 794, x2: 848, tx: 852, ys: [429, 452, 475] },
    { x1: 161, x2: 219, tx: 221, ys: [1321, 1344, 1367] },
    { x1: 387, x2: 445, tx: 448, ys: [1326, 1349, 1372] },
    { x1: 605, x2: 662, tx: 666, ys: [1326, 1349, 1372] },
    { x1: 825, x2: 881, tx: 883, ys: [1322, 1345, 1368] },
  ];
  legends.forEach((L) => {
    L.ys.forEach((y, k) => {
      graphic.push({
        type: 'line', silent: true, z: 100,
        shape: { x1: L.x1, y1: y, x2: L.x2, y2: y },
        style: { stroke: COLORS[k], lineWidth: 1.2, lineDash: k === 0 ? null : (DASHES[k] as number[]) },
      });
      graphic.push(text(L.tx, y, NAMES[k], 18, 'left'));
    });
  });

  return { animation: false, backgroundColor: '#fff', grid, xAxis, yAxis, series, graphic };
}

export default function App() {
  const ref = useRef<HTMLDivElement>(null);
  useEffect(() => {
    document.body.style.margin = '0';
    const chart = echarts.init(ref.current!, null, { renderer: 'svg' });
    chart.setOption(buildOption() as any);
    return () => chart.dispose();
  }, []);
  return <div ref={ref} style={{ width: 979, height: 1513 }} />;
}
